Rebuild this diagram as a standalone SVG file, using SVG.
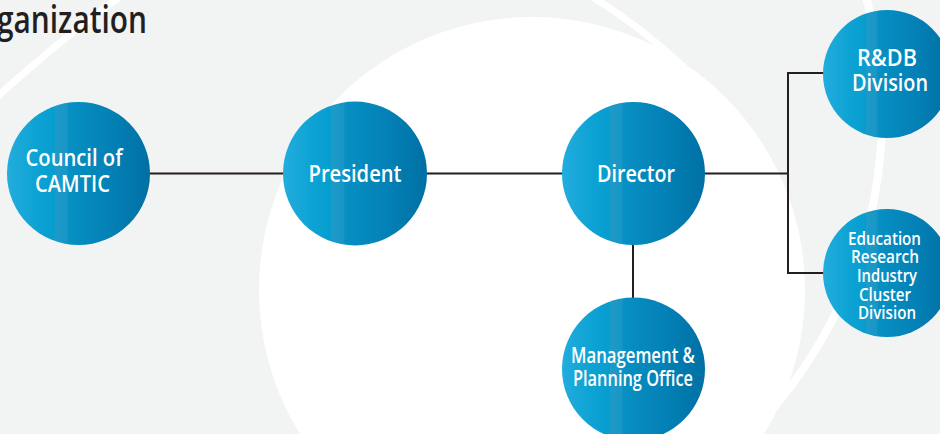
<svg xmlns="http://www.w3.org/2000/svg" width="940" height="434" viewBox="0 0 940 434">
<defs>
<linearGradient id="g" x1="0" y1="0" x2="1" y2="0">
<stop offset="0" stop-color="#22addd"/>
<stop offset="0.2" stop-color="#0ea3d4"/>
<stop offset="0.33" stop-color="#069dcf"/>
<stop offset="0.34" stop-color="#1f9ac8"/>
<stop offset="0.42" stop-color="#1896c6"/>
<stop offset="0.43" stop-color="#0790c3"/>
<stop offset="0.7" stop-color="#0482b7"/>
<stop offset="1" stop-color="#0070a4"/>
</linearGradient>
<style>
.n{fill:url(#g)}
.t{fill:#ffffff;font-family:"Open Sans","Liberation Sans",Arial,sans-serif;font-weight:600;text-anchor:middle}
.c{stroke:#231f20;stroke-width:2;fill:none}
.s{stroke:#ffffff;fill:none}
</style>
</defs>
<rect x="0" y="0" width="940" height="434" fill="#f2f3f3"/>
<g id="background">
<circle cx="532" cy="290" r="273" fill="#ffffff"/>
<path class="s" stroke-width="7" d="M120 -3 Q62 38 -3 97"/>
<path class="s" stroke-width="7" d="M592 -3 Q640 25 700 82"/>
<path class="s" stroke-width="8" d="M866 -3 C895 100 900 280 745 440"/>
</g>
<text x="-3" y="33" font-family="'Open Sans','Liberation Sans',Arial,sans-serif" font-size="37" font-weight="600" fill="#231f20" textLength="150" lengthAdjust="spacingAndGlyphs">ganization</text>
<g id="connectors">
<line class="c" x1="150" y1="173.5" x2="284" y2="173.5"/>
<line class="c" x1="426" y1="173.5" x2="563" y2="173.5"/>
<line class="c" x1="704" y1="173.5" x2="788" y2="173.5"/>
<polyline class="c" points="824,73 788,73 788,273 824,273"/>
<line class="c" x1="633" y1="244" x2="633" y2="298"/>
</g>
<g id="council">
<circle class="n" cx="78.5" cy="173.5" r="71.5"/>
<text class="t" font-size="23"><tspan x="74" y="166" textLength="97" lengthAdjust="spacingAndGlyphs">Council of</tspan><tspan x="72.5" y="191.5" textLength="75" lengthAdjust="spacingAndGlyphs">CAMTIC</tspan></text>
</g>
<g id="president">
<circle class="n" cx="355" cy="173.5" r="72"/>
<text class="t" font-size="24" x="355" y="181.5" textLength="93" lengthAdjust="spacingAndGlyphs">President</text>
</g>
<g id="director">
<circle class="n" cx="633.5" cy="173.5" r="71.5"/>
<text class="t" font-size="24" x="636" y="181.5" textLength="78" lengthAdjust="spacingAndGlyphs">Director</text>
</g>
<g id="management">
<circle class="n" cx="633.5" cy="369" r="71.5"/>
<text class="t" font-size="22"><tspan x="633" y="362.5" textLength="124" lengthAdjust="spacingAndGlyphs">Management &amp;</tspan><tspan x="633" y="386" textLength="120" lengthAdjust="spacingAndGlyphs">Planning Office</tspan></text>
</g>
<g id="rdb">
<circle class="n" cx="887" cy="74" r="64"/>
<text class="t" font-size="23"><tspan x="887" y="66" textLength="60" lengthAdjust="spacingAndGlyphs">R&amp;DB</tspan><tspan x="890" y="90.5" textLength="76" lengthAdjust="spacingAndGlyphs">Division</tspan></text>
</g>
<g id="education">
<circle class="n" cx="887" cy="273" r="64"/>
<text class="t" font-size="18"><tspan x="884.5" y="245" textLength="73" lengthAdjust="spacingAndGlyphs">Education</tspan><tspan x="885" y="263.3" textLength="68" lengthAdjust="spacingAndGlyphs">Research</tspan><tspan x="887" y="281.7" textLength="60" lengthAdjust="spacingAndGlyphs">Industry</tspan><tspan x="885" y="300.5" textLength="52" lengthAdjust="spacingAndGlyphs">Cluster</tspan><tspan x="887" y="319" textLength="58" lengthAdjust="spacingAndGlyphs">Division</tspan></text>
</g>
</svg>
